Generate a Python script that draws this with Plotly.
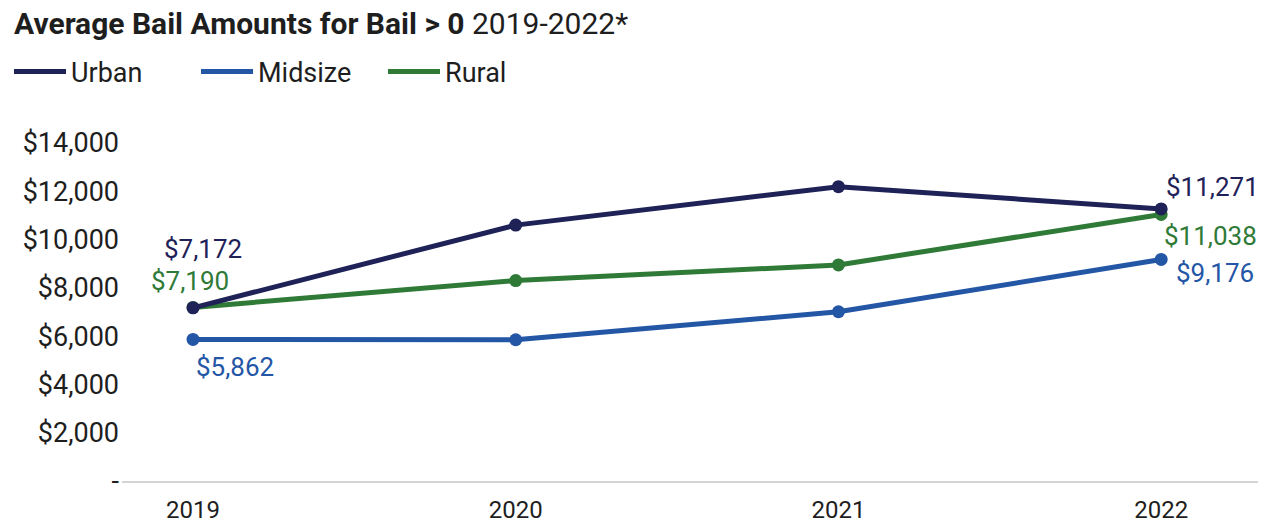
import plotly.graph_objects as go

years = [2019, 2020, 2021, 2022]
x_labels = ["2019", "2020", "2021", "2022"]
urban = [7172, 10600, 12190, 11271]
midsize = [5862, 5850, 7010, 9176]
rural = [7190, 8300, 8950, 11038]

y_tickvals = [0, 2000, 4000, 6000, 8000, 10000, 12000, 14000]
y_ticktext = ["-", "$2,000", "$4,000", "$6,000", "$8,000", "$10,000", "$12,000", "$14,000"]

C_URBAN = "#1f2257"
C_MID = "#2456a6"
C_RURAL = "#2f7a37"
FONT = "Roboto"
TXT = "#1e1e1e"

xi = list(range(len(years)))
fig = go.Figure()
series = [("Urban", urban, C_URBAN), ("Midsize", midsize, C_MID), ("Rural", rural, C_RURAL)]
for name, vals, col in [series[1], series[2], series[0]]:
    fig.add_trace(go.Scatter(x=xi, y=vals, mode="lines+markers", name=name,
                             line=dict(color=col, width=5), marker=dict(color=col, size=13),
                             showlegend=False, cliponaxis=False, hoverinfo="skip"))
for name, vals, col in series:
    fig.add_trace(go.Scatter(x=[None], y=[None], mode="lines", name=name,
                             line=dict(color=col, width=5), showlegend=True))

def fmt(v):
    return "${:,}".format(v)

label_specs = [
    (urban, 0, C_URBAN, 10, 59),
    (rural, 0, C_RURAL, -3, 26),
    (midsize, 0, C_MID, 42, -28),
    (urban, 3, C_URBAN, 51, 22),
    (rural, 3, C_RURAL, 49, -21),
    (midsize, 3, C_MID, 54, -14),
]
for vals, i, col, xs, ys in label_specs:
    fig.add_annotation(x=xi[i], y=vals[i], text=fmt(vals[i]), showarrow=False,
                       xanchor="center", yanchor="middle", xshift=xs, yshift=ys,
                       font=dict(family=FONT, size=26, color=col))

fig.update_layout(
    width=1270, height=525,
    margin=dict(l=122, r=12, t=143, b=44),
    paper_bgcolor="white", plot_bgcolor="white",
    font=dict(family=FONT, size=26, color=TXT),
    title=dict(text="<b>Average Bail Amounts for Bail &gt; 0</b> 2019-2022*",
               x=14/1270, xanchor="left", y=1-23/525, yanchor="middle",
               font=dict(family=FONT, size=30, color=TXT)),
    legend=dict(orientation="h", x=9/1270, xanchor="left", y=1-72/525, yanchor="middle",
                yref="container", xref="container",
                font=dict(family=FONT, size=27, color=TXT),
                itemwidth=52, entrywidth=120, entrywidthmode="pixels"),
    xaxis=dict(range=[-0.22, 3.3], tickvals=xi, ticktext=x_labels, showgrid=False,
               zeroline=False, showline=True, linecolor="#d4d4d4", linewidth=2,
               ticks="", ticklabelstandoff=6, automargin=False,
               tickfont=dict(size=24, family=FONT, color=TXT)),
    yaxis=dict(range=[0, 14000], tickvals=y_tickvals, ticktext=y_ticktext, showgrid=False,
               zeroline=False, showline=False, ticks="", ticklabelstandoff=2, automargin=False,
               tickfont=dict(size=27, family=FONT, color=TXT)),
)
fig.write_html("out.html")
